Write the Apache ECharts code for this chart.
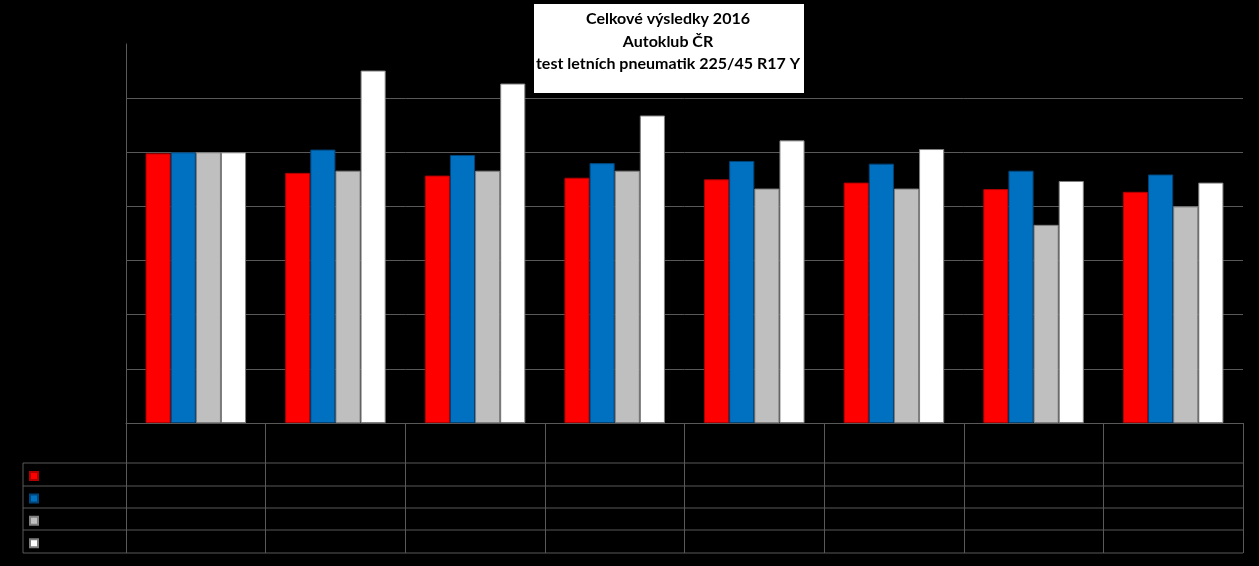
<!DOCTYPE html>
<html>
<head>
<meta charset="utf-8">
<script src="https://cdn.jsdelivr.net/npm/echarts@6/dist/echarts.min.js"></script>
<style>
  html, body { margin: 0; padding: 0; background: #000; }
  #chart { width: 1259px; height: 566px; }
</style>
</head>
<body>
<div id="chart"></div>
<script>
// values in % of reference tyre
var categories = ['1', '2', '3', '4', '5', '6', '7', '8'];
var seriesNames = ['Série 1', 'Série 2', 'Série 3', 'Série 4'];
var red = [99.6, 92.4, 91.4, 90.6, 90.0, 88.8, 86.4, 85.4];
var blue = [100, 101, 99, 96, 96.8, 95.8, 93.2, 91.8];
var gray = [100, 93.2, 93.2, 93.2, 86.6, 86.6, 73.2, 80];
var white = [100, 130.2, 125.4, 113.6, 104.4, 101.2, 89.4, 88.8];

var lineCol = '#595959';

function bar(name, data, color, border) {
  return {
    name: name,
    type: 'bar',
    data: data,
    barGap: '0%',
    barCategoryGap: '28%',
    itemStyle: { color: color, borderColor: border, borderWidth: 1 }
  };
}

// data table grid below the plot
var rows = [463, 486, 508, 530, 553];
var tableLines = rows.map(function (y) {
  return { type: 'line', shape: { x1: 23, y1: y, x2: 1243, y2: y }, style: { stroke: lineCol, lineWidth: 1 } };
});
tableLines.push({ type: 'line', shape: { x1: 23, y1: 463, x2: 23, y2: 553 }, style: { stroke: lineCol, lineWidth: 1 } });

var option = {
  backgroundColor: '#000',
  animation: false,
  grid: { left: 126, top: 44, right: 16, bottom: 143 },
  legend: {
    orient: 'vertical',
    left: 29,
    top: 471,
    padding: 0,
    itemWidth: 8,
    itemHeight: 8,
    itemGap: 12.4,
    icon: 'rect',
    formatter: function () { return ''; },
    textStyle: { color: '#000', fontSize: 8, lineHeight: 8 },
    data: seriesNames
  },
  xAxis: {
    type: 'category',
    data: categories,
    axisLine: { lineStyle: { color: lineCol } },
    axisTick: { show: true, interval: 0, length: 130, lineStyle: { color: lineCol } },
    axisLabel: { show: false }
  },
  yAxis: {
    type: 'value',
    min: 0,
    max: 140,
    interval: 20,
    axisLine: { show: true, lineStyle: { color: lineCol } },
    axisTick: { show: false },
    axisLabel: { show: false },
    splitLine: { showMaxLine: false, lineStyle: { color: lineCol } }
  },
  graphic: tableLines.concat([
    {
      type: 'rect',
      shape: { x: 534, y: 4, width: 270, height: 89 },
      style: { fill: '#fff' }
    },
    {
      type: 'text',
      x: 668,
      y: 8,
      style: {
        text: 'Celkové výsledky 2016\nAutoklub ČR\ntest letních pneumatik 225/45 R17 Y',
        fill: '#000',
        font: 'bold 16px Lato',
        lineHeight: 22.5,
        align: 'center'
      }
    }
  ]),
  series: [
    bar(seriesNames[0], red, '#ff0000', '#b00000'),
    bar(seriesNames[1], blue, '#0070c0', '#00457a'),
    bar(seriesNames[2], gray, '#bfbfbf', '#7f7f7f'),
    bar(seriesNames[3], white, '#ffffff', '#7f7f7f')
  ]
};

var chart = echarts.init(document.getElementById('chart'));
chart.setOption(option);
</script>
</body>
</html>
